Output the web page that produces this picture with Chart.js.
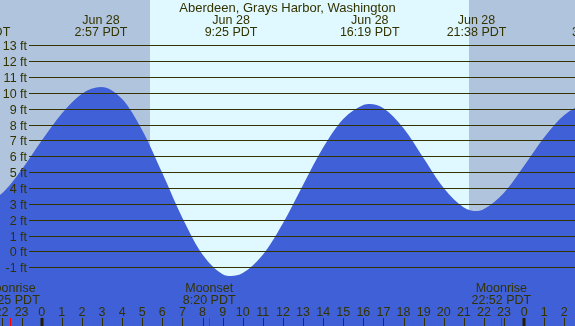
<!DOCTYPE html>
<html>
<head>
<meta charset="utf-8">
<script src="https://cdn.jsdelivr.net/npm/chart.js@4"></script>
<style>
html,body{margin:0;padding:0;background:#B0C4DE;}
#wrap{width:575px;height:326px;}
</style>
</head>
<body>
<div id="wrap"><canvas id="c" width="575" height="326"></canvas></div>
<script>
// ---- data (hours from midnight Jun 28, tide heights in feet) ----
const tideHours = [-3.05, -2, -1, 0, 1, 2, 2.95, 4, 5, 6, 7, 8, 9, 9.42, 10, 11, 12, 13, 14, 15, 16, 16.32, 17, 18, 19, 20, 21, 21.63, 22, 23, 24, 25, 26, 27, 27.7];
const tideFeet  = [3.0, 3.64, 5.15, 7.0, 8.7, 9.95, 10.37, 9.61, 7.65, 4.95, 2.11, -0.19, -1.43, -1.55, -1.36, -0.21, 1.78, 4.20, 6.55, 8.35, 9.24, 9.3, 9.03, 7.77, 5.88, 4.00, 2.78, 2.55, 2.68, 3.7, 5.4, 7.2, 8.6, 9.3, 9.45];

const extremeHours = [-3.05, 2.95, 9.42, 16.32, 21.63, 27.7];
const extremeDates = ["Jun 27", "Jun 28", "Jun 28", "Jun 28", "Jun 28", "Jun 29"];
const extremeTimes = ["20:57 PDT", "2:57 PDT", "9:25 PDT", "16:19 PDT", "21:38 PDT", "3:42 PDT"];

const moonHours  = [-1.583, 8.333, 22.867];
const moonEvents = ["Moonrise", "Moonset", "Moonrise"];
const moonTimes  = ["22:25 PDT", "8:20 PDT", "22:52 PDT"];

const sunriseHour = 5.39;
const sunsetHour  = 21.26;

const yTickFeet = [-1, 0, 1, 2, 3, 4, 5, 6, 7, 8, 9, 10, 11, 12, 13];
const hourTicks = [-2, -1, 0, 1, 2, 3, 4, 5, 6, 7, 8, 9, 10, 11, 12, 13, 14, 15, 16, 17, 18, 19, 20, 21, 22, 23, 24, 25, 26];

const chartTitle = "Aberdeen, Grays Harbor, Washington";

// ---- styles ----
const NIGHT = '#B0C4DE';
const DAY = '#E0F8FF';
const WATER = '#4060D8';
const INK = '#333300';
const FONT = '12.5px "Liberation Sans", Arial, sans-serif';
const TITLE_FONT = '13px "Liberation Sans", Arial, sans-serif';

const decor = {
  id: 'decor',
  beforeDatasetsDraw(chart) {
    const {ctx, chartArea: a, scales: {x}} = chart;
    ctx.save();
    ctx.fillStyle = NIGHT;
    ctx.fillRect(a.left, a.top, a.width, a.height);
    const x1 = Math.round(x.getPixelForValue(sunriseHour));
    const x2 = Math.round(x.getPixelForValue(sunsetHour));
    ctx.fillStyle = DAY;
    ctx.fillRect(x1, a.top, x2 - x1, a.height);
    ctx.restore();
  },
  afterDatasetsDraw(chart) {
    const {ctx, chartArea: a, scales: {x, y}} = chart;
    ctx.save();
    ctx.strokeStyle = INK;
    ctx.lineWidth = 1;
    ctx.fillStyle = INK;
    ctx.font = FONT;
    ctx.textAlign = 'right';
    ctx.textBaseline = 'alphabetic';
    yTickFeet.forEach(v => {
      const py = Math.round(y.getPixelForValue(v)) + 0.5;
      ctx.beginPath();
      ctx.moveTo(29, py);
      ctx.lineTo(a.right, py);
      ctx.stroke();
      ctx.fillText(v + ' ft', 27, py + 4.3);
    });
    ctx.textAlign = 'center';
    ctx.font = TITLE_FONT;
    ctx.fillText(chartTitle, 287.5, 12);
    ctx.font = FONT;
    extremeHours.forEach((h, i) => {
      const px = x.getPixelForValue(h);
      ctx.fillText(extremeDates[i], px, 24);
      ctx.fillText(extremeTimes[i], px, 36);
    });
    moonHours.forEach((h, i) => {
      const px = x.getPixelForValue(h);
      ctx.fillText(moonEvents[i], px, 292);
      ctx.fillText(moonTimes[i], px, 304);
    });
    hourTicks.forEach(h => {
      const px = x.getPixelForValue(h);
      const lab = ((h % 24) + 24) % 24;
      ctx.fillStyle = INK;
      ctx.fillText(String(lab), px, 316);
      if (lab === 0) {
        ctx.fillStyle = '#221f00';
        ctx.fillRect(Math.round(px) - 1.5, 318, 3, 8);
      } else {
        ctx.beginPath();
        ctx.moveTo(Math.round(px) + 0.5, 318);
        ctx.lineTo(Math.round(px) + 0.5, 326);
        ctx.stroke();
      }
    });
    ctx.strokeStyle = '#FF0000';
    moonHours.forEach(h => {
      const px = Math.round(x.getPixelForValue(h)) + 0.5;
      ctx.beginPath();
      ctx.moveTo(px, 318);
      ctx.lineTo(px, 326);
      ctx.stroke();
    });
    ctx.restore();
  }
};

new Chart(document.getElementById('c'), {
  type: 'line',
  data: {
    datasets: [{
      data: tideHours.map((h, i) => ({x: h, y: tideFeet[i]})),
      fill: 'start',
      backgroundColor: WATER,
      borderWidth: 0,
      borderColor: WATER,
      pointRadius: 0,
      cubicInterpolationMode: 'monotone'
    }]
  },
  options: {
    responsive: false,
    devicePixelRatio: 1,
    animation: false,
    events: [],
    layout: {padding: 0},
    plugins: {legend: {display: false}, tooltip: {enabled: false}, title: {display: false}},
    scales: {
      x: {type: 'linear', min: -2.075, max: 26.53, display: false},
      y: {type: 'linear', min: -4.70, max: 15.86, display: false}
    }
  },
  plugins: [decor]
});
</script>
</body>
</html>
